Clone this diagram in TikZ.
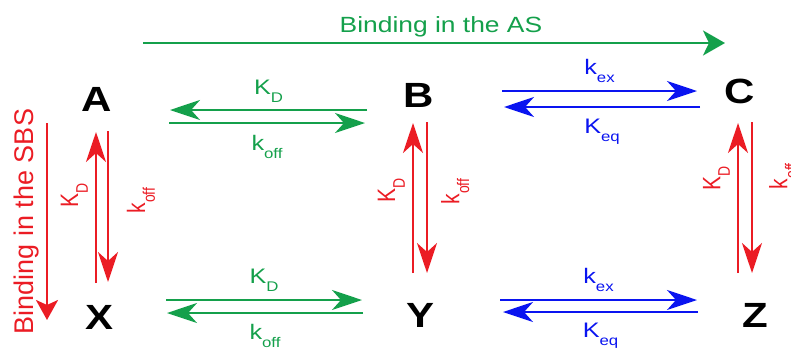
\documentclass[tikz,border=0pt]{standalone}
\usepackage{fontspec}
\setmainfont{Liberation Sans}
\usetikzlibrary{arrows.meta}
\definecolor{asgreen}{RGB}{20,160,75}
\definecolor{sbsred}{RGB}{235,28,36}
\definecolor{exblue}{RGB}{10,20,240}
\newcommand{\lowsub}[1]{\raisebox{-8pt}{\fontsize{14}{14}\selectfont #1}}

\begin{document}
\begin{tikzpicture}[
    x=1pt, y=-1pt,
    species/.style={font=\fontsize{35}{35}\selectfont\bfseries, inner sep=0pt, xscale=1.2},
    arr/.style={line width=2.6pt, -{Stealth[length=30pt, width=20pt, inset=9pt]}},
    garr/.style={arr, asgreen},
    barr/.style={arr, exblue},
    rarr/.style={arr, sbsred},
    longarr/.style={line width=2.6pt, -{Stealth[length=22pt, width=25pt, inset=6pt]}},
    lbl/.style={font=\fontsize{21}{21}\selectfont, inner sep=0pt, xscale=1.2},
    biglbl/.style={lbl, font=\fontsize{22}{22}\selectfont},
]
\useasboundingbox (0,0) rectangle (791,349);
% ----- the six states
\node[species] (A) at (97,99) {A};
\node[species] (B) at (419,95) {B};
\node[species] (C) at (740,91) {C};
\node[species] (X) at (100,317) {X};
\node[species] (Y) at (420,315) {Y};
\node[species] (Z) at (755,315) {Z};
% ----- the two long arrows
\coordinate (asL) at (143,43);
\coordinate (asR) at (725,43);
\draw[longarr, asgreen] (asL) -- (asR) node[biglbl, pos=0.512, above=5pt] (asLbl) {Binding in the AS};
\coordinate (sbsT) at (47,123);
\coordinate (sbsB) at (47,320);
\draw[line width=2.6pt, -{Stealth[length=20pt, width=22pt, inset=5pt]}, sbsred] (sbsT) -- (sbsB)
      node[font=\fontsize{27}{27}\selectfont, midway, rotate=90, anchor=south, inner xsep=0pt, inner ysep=7pt] (sbsLbl) {Binding in the SBS};
% ----- top row
\draw[garr] ([shift={(-52,15)}]B.center) -- ([shift={(73,11)}]A.center) node[lbl, midway, above=6pt] (kdAB) {K\lowsub{D}};
\draw[garr] ([shift={(72,24)}]A.center) -- ([shift={(-54,28)}]B.center) node[lbl, midway, below=11pt] (koffAB) {k\lowsub{off}};
\draw[barr] ([shift={(83,-4)}]B.center) -- ([shift={(-43,0)}]C.center) node[lbl, midway, above=7pt] (kexBC) {k\lowsub{ex}};
\draw[barr] ([shift={(-40,16)}]C.center) -- ([shift={(85,12)}]B.center) node[lbl, midway, below=11pt] (keqBC) {K\lowsub{eq}};
% ----- bottom row
\draw[garr] ([shift={(66,-17)}]X.center) -- ([shift={(-58,-15)}]Y.center) node[lbl, midway, above=7pt] (kdXY) {K\lowsub{D}};
\draw[garr] ([shift={(-57,-2)}]Y.center) -- ([shift={(67,-4)}]X.center) node[lbl, midway, below=10pt] (koffXY) {k\lowsub{off}};
\draw[barr] ([shift={(80,-15)}]Y.center) -- ([shift={(-58,-15)}]Z.center) node[lbl, midway, above=7pt] (kexYZ) {k\lowsub{ex}};
\draw[barr] ([shift={(-57,-3)}]Z.center) -- ([shift={(83,-3)}]Y.center) node[lbl, midway, below=10pt] (keqYZ) {K\lowsub{eq}};
% ----- the three columns
\draw[rarr] ([shift={(-4,-34)}]X.center) -- ([shift={(-1,33)}]A.center) node[lbl, pos=0.58, rotate=90, anchor=south, inner ysep=5.5pt] (kdAX) {K\lowsub{D}};
\draw[rarr] ([shift={(11,32)}]A.center) -- ([shift={(8,-35)}]X.center) node[lbl, pos=0.46, rotate=90, anchor=north, inner ysep=14.5pt] (koffAX) {k\lowsub{off}};
\draw[rarr] ([shift={(-7,-42)}]Y.center) -- ([shift={(-6,28)}]B.center) node[lbl, pos=0.55, rotate=90, anchor=south, inner ysep=5.5pt] (kdBY) {K\lowsub{D}};
\draw[rarr] ([shift={(8,27)}]B.center) -- ([shift={(7,-42)}]Y.center) node[lbl, pos=0.46, rotate=90, anchor=north, inner ysep=10.5pt] (koffBY) {k\lowsub{off}};
\draw[rarr] ([shift={(-17,-42)}]Z.center) -- ([shift={(-2,32)}]C.center) node[lbl, pos=0.63, rotate=90, anchor=south, inner ysep=5.5pt] (kdCZ) {K\lowsub{D}};
\draw[rarr] ([shift={(12,31)}]C.center) -- ([shift={(-3,-42)}]Z.center) node[lbl, pos=0.36, rotate=90, anchor=north, inner ysep=13pt] (koffCZ) {k\lowsub{off}};
\end{tikzpicture}
\end{document}
